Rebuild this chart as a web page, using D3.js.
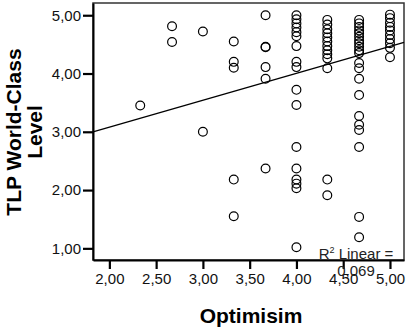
<!DOCTYPE html>
<html>
<head>
<meta charset="utf-8">
<script src="https://cdn.jsdelivr.net/npm/d3@7"></script>
<style>
  body { margin: 0; background: #fff; }
  svg text { font-family: "Liberation Sans", Arial, sans-serif; }
</style>
</head>
<body>
<div id="chart"></div>
<script>
// data
var optimism = [
  2.33,
  2.67, 2.67,
  3.00, 3.00,
  3.33, 3.33, 3.33, 3.33, 3.33,
  3.67, 3.67, 3.67, 3.67, 3.67, 3.67,
  4.00, 4.00, 4.00, 4.00, 4.00, 4.00, 4.00, 4.00, 4.00, 4.00, 4.00, 4.00, 4.00, 4.00, 4.00, 4.00, 4.00,
  4.33, 4.33, 4.33, 4.33, 4.33, 4.33, 4.33, 4.33, 4.33, 4.33, 4.33, 4.33, 4.33,
  4.67, 4.67, 4.67, 4.67, 4.67, 4.67, 4.67, 4.67, 4.67, 4.67, 4.67, 4.67, 4.67, 4.67, 4.67, 4.67, 4.67, 4.67, 4.67, 4.67, 4.67,
  5.00, 5.00, 5.00, 5.00, 5.00, 5.00, 5.00, 5.00, 5.00, 5.00
];
var level = [
  3.45,
  4.81, 4.54,
  4.72, 3.00,
  4.55, 4.20, 4.10, 2.18, 1.55,
  5.00, 4.46, 4.45, 4.11, 3.91, 2.37,
  5.00, 4.93, 4.86, 4.79, 4.71, 4.64, 4.47, 4.20, 4.11, 3.72, 3.46, 2.74, 2.37, 2.18, 2.11, 2.03, 1.02,
  4.92, 4.84, 4.76, 4.69, 4.62, 4.55, 4.47, 4.40, 4.33, 4.26, 4.09, 2.18, 1.91,
  4.92, 4.86, 4.80, 4.74, 4.69, 4.63, 4.57, 4.52, 4.46, 4.40, 4.35, 4.18, 4.09, 3.91, 3.63, 3.27, 3.12, 3.03, 2.74, 1.54, 1.19,
  5.01, 4.95, 4.87, 4.80, 4.74, 4.66, 4.59, 4.52, 4.44, 4.28
];
var xTicks = [2.00, 2.50, 3.00, 3.50, 4.00, 4.50, 5.00];
var yTicks = [1.00, 2.00, 3.00, 4.00, 5.00];
var fitIntercept = 2.157;
var fitSlope = 0.462;
var r2Text = "0,069";

var canvasWidth = 410;
var canvasHeight = 332;
var margin = {left: 93, top: 3, right: 6, bottom: 72};

var svg = d3.select("#chart").append("svg")
    .attr("width", canvasWidth)
    .attr("height", canvasHeight)

var xScale = d3.scaleLinear().domain([1.825, 5.15]).range([margin.left, canvasWidth - margin.right]);
var yScale = d3.scaleLinear().domain([0.8, 5.21]).range([canvasHeight - margin.bottom, margin.top]);

var fmt = function(d) { return d3.format(".2f")(d).replace(".", ","); };

// plot frame
svg.append("rect")
    .attr("x", margin.left)
    .attr("y", margin.top)
    .attr("width", canvasWidth - margin.left - margin.right)
    .attr("height", canvasHeight - margin.top - margin.bottom)
    .attr("fill", "none")
    .attr("stroke", "#333")
    .attr("stroke-width", 1.5)

// Y axis
var yAxis = svg.append("g")
    .attr("transform", "translate(" + margin.left + ",0)")
    .call(d3.axisLeft(yScale).tickValues(yTicks).tickFormat(fmt).tickSize(10).tickSizeOuter(0).tickPadding(2))
yAxis.select(".domain").attr("stroke", "#000").attr("stroke-width", 2)
yAxis.selectAll(".tick line").attr("stroke", "#000").attr("stroke-width", 2.2)
yAxis.selectAll("text").attr("font-size", "15px").attr("fill", "#111")

// X axis
var xAxis = svg.append("g")
    .attr("transform", "translate(0," + (canvasHeight - margin.bottom) + ")")
    .call(d3.axisBottom(xScale).tickValues(xTicks).tickFormat(fmt).tickSize(9).tickSizeOuter(0).tickPadding(4))
xAxis.select(".domain").attr("stroke", "#000").attr("stroke-width", 2)
xAxis.selectAll(".tick line").attr("stroke", "#000").attr("stroke-width", 2.2)
xAxis.selectAll("text").attr("font-size", "15px").attr("fill", "#111")

// points
var points = optimism.map(function(d, i) { return {x: d, y: level[i]}; });
svg.append("g").selectAll("circle")
    .data(points)
    .enter().append("circle")
    .attr("cx", function(d) { return xScale(d.x); })
    .attr("cy", function(d) { return yScale(d.y); })
    .attr("r", 4.4)
    .attr("fill", "none")
    .attr("stroke", "#000")
    .attr("stroke-width", 1.2)

// fit line
var xDom = xScale.domain();
svg.append("path")
    .datum(xDom)
    .attr("fill", "none")
    .attr("stroke", "#000")
    .attr("stroke-width", 1.3)
    .attr("d", d3.line()
        .x(function(d) { return xScale(d); })
        .y(function(d) { return yScale(fitIntercept + fitSlope * d); }))

// R2 label
var r2 = svg.append("text")
    .attr("x", 356)
    .attr("y", 259)
    .attr("text-anchor", "middle")
    .attr("font-size", "15px")
    .attr("fill", "#222")
r2.append("tspan").text("R")
r2.append("tspan").attr("font-size", "9px").attr("dy", -6).text("2")
r2.append("tspan").attr("dy", 6).text(" Linear =")
svg.append("text")
    .attr("x", 356)
    .attr("y", 276)
    .attr("text-anchor", "middle")
    .attr("font-size", "15px")
    .attr("fill", "#222")
    .text(r2Text)

// axis titles
svg.append("text")
    .attr("x", 251)
    .attr("y", 323)
    .attr("text-anchor", "middle")
    .attr("font-size", "21px")
    .attr("font-weight", "bold")
    .text("Optimisim")

var yTitle = svg.append("text")
    .attr("transform", "translate(0,132) rotate(-90)")
    .attr("text-anchor", "middle")
    .attr("font-size", "21px")
    .attr("font-weight", "bold")
yTitle.append("tspan").attr("x", 0).attr("y", 21).text("TLP World-Class")
yTitle.append("tspan").attr("x", 0).attr("y", 42).text("Level")
</script>
</body>
</html>
